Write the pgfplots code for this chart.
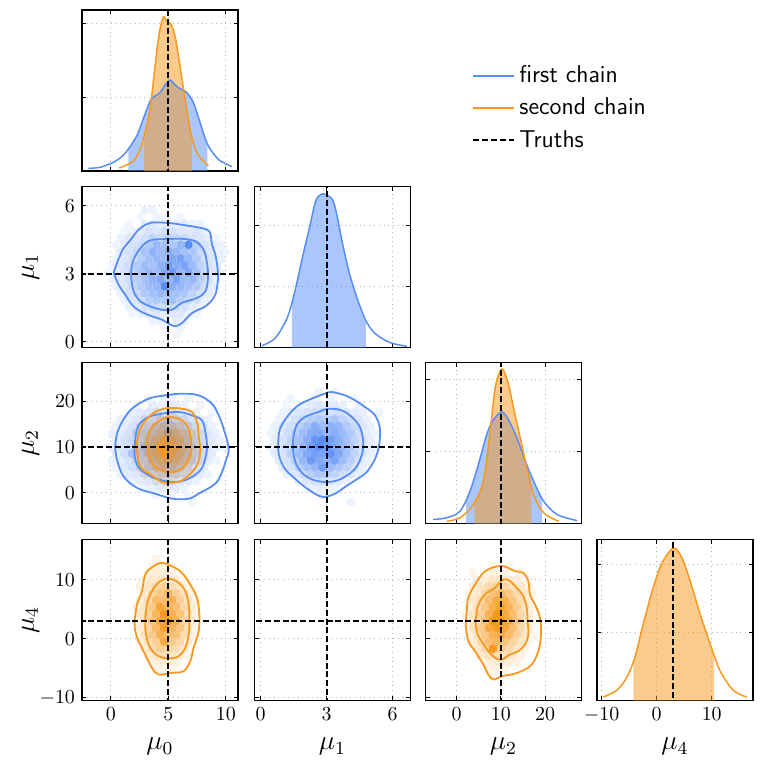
\documentclass[border=0pt]{standalone}
\usepackage{pgfplots}
\pgfplotsset{compat=1.18}
\usepackage{pgfplotstable}
\usepgfplotslibrary{fillbetween}
\definecolor{blueC}{RGB}{88,141,245}
\definecolor{orangeC}{RGB}{248,152,29}

\pgfdeclareplotmark{hexagon}{%
  \pgfpathmoveto{\pgfqpoint{0pt}{1.1547\pgfplotmarksize}}%
  \pgfpathlineto{\pgfqpoint{\pgfplotmarksize}{0.57735\pgfplotmarksize}}%
  \pgfpathlineto{\pgfqpoint{\pgfplotmarksize}{-0.57735\pgfplotmarksize}}%
  \pgfpathlineto{\pgfqpoint{0pt}{-1.1547\pgfplotmarksize}}%
  \pgfpathlineto{\pgfqpoint{-\pgfplotmarksize}{-0.57735\pgfplotmarksize}}%
  \pgfpathlineto{\pgfqpoint{-\pgfplotmarksize}{0.57735\pgfplotmarksize}}%
  \pgfpathclose
  \pgfusepathqfill}

\pgfplotsset{
  colormap={bmap}{color=(white) color=(blueC)},
  colormap={omap}{color=(white) color=(orangeC)},
  cp/.style={
    scale only axis, width=78bp, height=80.5bp, anchor=north west,
    axis line style={line width=0.6bp},
    tick align=inside, tick pos=both,
    xticklabel pos=lower, yticklabel pos=left,
    major tick length=2.2bp,
    tick style={black, line width=0.5bp},
    grid=major,
    grid style={dotted, black!30, line width=0.5bp},
    tick label style={font=\fontsize{10}{12}\selectfont},
    clip=true,
    point meta min=0, point meta max=0.48,
    every axis x label/.style={at={(axis description cs:0.5,-0.307)}, anchor=base, font=\fontsize{12}{14}\selectfont, scale=1.15},
    every axis y label/.style={at={(axis description cs:-0.33,0.5)}, rotate=90, anchor=center, font=\fontsize{12}{14}\selectfont, scale=1.15},
  },
  ov/.style={cp, hide axis},
  noxl/.style={xticklabels={,,}},
  noyl/.style={yticklabels={,,}},
  truth/.style={black, line width=0.85bp, dash pattern=on 3bp off 1.4bp},
  cont/.style={line width=0.9bp, smooth, tension=0.6, forget plot},
  marg/.style={line width=0.75bp, smooth, tension=0.5, forget plot},
  hexm/.style={scatter, only marks, mark=hexagon, mark size=2.05bp, forget plot,
    point meta=\thisrow{v},
    scatter/use mapped color={draw=none, fill=mapped color}},
  hexo/.style={scatter, only marks, mark=hexagon, mark size=2bp, forget plot,
    point meta=\thisrow{v},
    visualization depends on={min(1,2.0*\thisrow{v}) \as \hv},
    scatter/@pre marker code/.code={\pgfsetfillopacity{\hv}\pgfsetfillcolor{#1}},
    scatter/@post marker code/.code={}},
}

% hex bins: column index i, row index j, shade v
\pgfplotstableread{
i j v
-5.5 7 .06
-4.5 7 .05
-6 6 .04
-4 6 .05
-3 6 .04
-1 6 .04
-7.5 5 .04
-5.5 5 .08
-4.5 5 .10
-3.5 5 .07
-2.5 5 .09
-1.5 5 .06
-0.5 5 .08
0.5 5 .05
1.5 5 .06
-8 4 .04
-7 4 .06
-6 4 .08
-5 4 .12
-4 4 .10
-3 4 .14
-2 4 .12
-1 4 .10
0 4 .09
1 4 .11
2 4 .06
-8.5 3 .06
-7.5 3 .09
-6.5 3 .10
-5.5 3 .14
-4.5 3 .18
-3.5 3 .15
-2.5 3 .20
-1.5 3 .17
-0.5 3 .16
0.5 3 .12
1.5 3 .10
2.5 3 .07
3.5 3 .04
-9 2 .05
-8 2 .08
-7 2 .12
-6 2 .14
-5 2 .22
-4 2 .30
-3 2 .26
-2 2 .24
-1 2 .30
0 2 .62
1 2 .20
2 2 .12
3 2 .08
4 2 .05
-8.5 1 .08
-7.5 1 .12
-6.5 1 .16
-5.5 1 .25
-4.5 1 .32
-3.5 1 .28
-2.5 1 .35
-1.5 1 .30
-0.5 1 .26
0.5 1 .24
1.5 1 .16
2.5 1 .10
3.5 1 .06
4.5 1 .05
-9 0 .06
-8 0 .10
-7 0 .14
-6 0 .20
-5 0 .26
-4 0 .30
-3 0 .28
-2 0 .36
-1 0 .38
0 0 .30
1 0 .22
2 0 .14
3 0 .10
4 0 .06
-9.5 -1 .05
-8.5 -1 .10
-7.5 -1 .14
-6.5 -1 .22
-5.5 -1 .28
-4.5 -1 .25
-3.5 -1 .32
-2.5 -1 .40
-1.5 -1 .34
-0.5 -1 .38
0.5 -1 .28
1.5 -1 .18
2.5 -1 .12
3.5 -1 .08
-10 -2 .04
-9 -2 .08
-8 -2 .12
-7 -2 .18
-6 -2 .24
-5 -2 .30
-4 -2 .28
-3 -2 .35
-2 -2 .42
-1 -2 .30
0 -2 .36
1 -2 .26
2 -2 .16
3 -2 .10
4 -2 .05
-9.5 -3 .06
-8.5 -3 .09
-7.5 -3 .14
-6.5 -3 .20
-5.5 -3 .26
-4.5 -3 .32
-3.5 -3 .36
-2.5 -3 .30
-1.5 -3 .38
-0.5 -3 .28
0.5 -3 .30
1.5 -3 .20
2.5 -3 .12
3.5 -3 .06
-9 -4 .06
-8 -4 .10
-7 -4 .16
-6 -4 .22
-5 -4 .28
-4 -4 .30
-3 -4 .52
-2 -4 .34
-1 -4 .30
0 -4 .26
1 -4 .22
2 -4 .14
3 -4 .08
-8.5 -5 .06
-7.5 -5 .12
-6.5 -5 .16
-5.5 -5 .22
-4.5 -5 .26
-3.5 -5 .30
-2.5 -5 .28
-1.5 -5 .26
-0.5 -5 .24
0.5 -5 .18
1.5 -5 .12
2.5 -5 .08
-8 -6 .06
-7 -6 .10
-6 -6 .14
-5 -6 .20
-4 -6 .24
-3 -6 .22
-2 -6 .26
-1 -6 .20
0 -6 .16
1 -6 .12
2 -6 .06
-7.5 -7 .06
-6.5 -7 .08
-5.5 -7 .12
-4.5 -7 .16
-3.5 -7 .14
-2.5 -7 .18
-1.5 -7 .14
-0.5 -7 .12
0.5 -7 .08
1.5 -7 .05
-7 -8 .04
-6 -8 .06
-5 -8 .08
-4 -8 .10
-3 -8 .08
-2 -8 .10
-1 -8 .09
0 -8 .06
1 -8 .04
-4.5 -9 .05
-3.5 -9 .06
-2.5 -9 .05
-1.5 -9 .07
-0.5 -9 .05
-3 -10 .04
-1 -10 .05
-1.5 -11 .04
}\hexA

\pgfplotstableread{
i j v
-2.5 7 .05
-0.5 7 .06
0.5 7 .05
2.5 7 .05
-4 6 .04
-2 6 .07
-1 6 .06
0 6 .08
1 6 .07
2 6 .05
4 6 .04
-4.5 5 .06
-3.5 5 .08
-2.5 5 .10
-1.5 5 .12
-0.5 5 .10
0.5 5 .13
1.5 5 .10
2.5 5 .08
3.5 5 .06
5.5 5 .04
-6 4 .05
-5 4 .07
-4 4 .10
-3 4 .14
-2 4 .16
-1 4 .20
0 4 .24
1 4 .18
2 4 .15
3 4 .12
4 4 .08
5 4 .06
-6.5 3 .05
-5.5 3 .08
-4.5 3 .12
-3.5 3 .18
-2.5 3 .20
-1.5 3 .26
-0.5 3 .30
0.5 3 .28
1.5 3 .22
2.5 3 .20
3.5 3 .14
4.5 3 .10
5.5 3 .06
-7 2 .06
-6 2 .08
-5 2 .12
-4 2 .20
-3 2 .24
-2 2 .28
-1 2 .30
0 2 .46
1 2 .32
2 2 .26
3 2 .20
4 2 .14
5 2 .10
6 2 .06
-6.5 1 .07
-5.5 1 .12
-4.5 1 .16
-3.5 1 .22
-2.5 1 .28
-1.5 1 .34
-0.5 1 .36
0.5 1 .40
1.5 1 .34
2.5 1 .28
3.5 1 .20
4.5 1 .14
5.5 1 .08
6.5 1 .05
-7 0 .06
-6 0 .10
-5 0 .14
-4 0 .20
-3 0 .30
-2 0 .34
-1 0 .40
0 0 .42
1 0 .38
2 0 .30
3 0 .24
4 0 .16
5 0 .10
6 0 .07
7 0 .04
-6.5 -1 .08
-5.5 -1 .14
-4.5 -1 .26
-3.5 -1 .24
-2.5 -1 .30
-1.5 -1 .36
-0.5 -1 .40
0.5 -1 .36
1.5 -1 .34
2.5 -1 .28
3.5 -1 .20
4.5 -1 .14
5.5 -1 .08
-7 -2 .05
-6 -2 .08
-5 -2 .12
-4 -2 .18
-3 -2 .22
-2 -2 .30
-1 -2 .32
0 -2 .36
1 -2 .32
2 -2 .26
3 -2 .22
4 -2 .14
5 -2 .08
6 -2 .05
-6.5 -3 .05
-5.5 -3 .10
-4.5 -3 .14
-3.5 -3 .18
-2.5 -3 .24
-1.5 -3 .26
-0.5 -3 .30
0.5 -3 .28
1.5 -3 .24
2.5 -3 .18
3.5 -3 .12
4.5 -3 .08
-6 -4 .05
-5 -4 .08
-4 -4 .10
-3 -4 .14
-2 -4 .18
-1 -4 .20
0 -4 .22
1 -4 .20
2 -4 .16
3 -4 .12
4 -4 .08
5 -4 .05
-4.5 -5 .06
-3.5 -5 .08
-2.5 -5 .10
-1.5 -5 .12
-0.5 -5 .14
0.5 -5 .12
1.5 -5 .10
2.5 -5 .08
3.5 -5 .05
-3 -6 .05
-2 -6 .06
-1 -6 .08
0 -6 .07
1 -6 .08
2 -6 .05
-1.5 -7 .04
0.5 -7 .05
2.5 -7 .04
3 -8 .04
}\hexB

\pgfplotstableread{
i j v
-1.5 5 .04
0.5 5 .06
-3 4 .04
-2 4 .06
-1 4 .10
0 4 .12
1 4 .08
2 4 .05
-3.5 3 .05
-2.5 3 .10
-1.5 3 .16
-0.5 3 .20
0.5 3 .18
1.5 3 .14
2.5 3 .08
3.5 3 .04
-4 2 .05
-3 2 .10
-2 2 .18
-1 2 .26
0 2 .30
1 2 .28
2 2 .20
3 2 .12
4 2 .05
-3.5 1 .10
-2.5 1 .20
-1.5 1 .32
-0.5 1 .42
0.5 1 .36
1.5 1 .30
2.5 1 .18
3.5 1 .08
-4 0 .06
-3 0 .14
-2 0 .26
-1 0 .55
0 0 .44
1 0 .40
2 0 .26
3 0 .14
4 0 .06
-3.5 -1 .12
-2.5 -1 .22
-1.5 -1 .36
-0.5 -1 .48
0.5 -1 .40
1.5 -1 .30
2.5 -1 .20
3.5 -1 .10
-4 -2 .05
-3 -2 .12
-2 -2 .22
-1 -2 .32
0 -2 .36
1 -2 .30
2 -2 .22
3 -2 .12
4 -2 .05
-3.5 -3 .08
-2.5 -3 .14
-1.5 -3 .22
-0.5 -3 .26
0.5 -3 .22
1.5 -3 .16
2.5 -3 .10
-3 -4 .05
-2 -4 .10
-1 -4 .14
0 -4 .14
1 -4 .12
2 -4 .08
3 -4 .04
-1.5 -5 .06
-0.5 -5 .07
0.5 -5 .06
0 -6 .04
}\hexC

\pgfplotstableread{
i j v
-1 8 .05
1 8 .04
-4.5 7 .05
-1.5 7 .06
0.5 7 .05
3.5 7 .04
-5 6 .04
-3 6 .06
-2 6 .08
-1 6 .10
0 6 .08
1 6 .09
2 6 .06
4 6 .05
-5.5 5 .05
-4.5 5 .07
-3.5 5 .10
-2.5 5 .12
-1.5 5 .14
-0.5 5 .16
0.5 5 .12
1.5 5 .14
2.5 5 .10
3.5 5 .08
4.5 5 .06
6.5 5 .05
-6 4 .05
-5 4 .08
-4 4 .12
-3 4 .16
-2 4 .20
-1 4 .22
0 4 .20
1 4 .24
2 4 .18
3 4 .14
4 4 .10
5 4 .06
-6.5 3 .06
-5.5 3 .10
-4.5 3 .14
-3.5 3 .20
-2.5 3 .26
-1.5 3 .34
-0.5 3 .28
0.5 3 .32
1.5 3 .30
2.5 3 .22
3.5 3 .16
4.5 3 .10
5.5 3 .06
-7 2 .05
-6 2 .08
-5 2 .14
-4 2 .20
-3 2 .28
-2 2 .34
-1 2 .36
0 2 .30
1 2 .34
2 2 .28
3 2 .22
4 2 .14
5 2 .08
6 2 .05
-6.5 1 .07
-5.5 1 .12
-4.5 1 .18
-3.5 1 .26
-2.5 1 .34
-1.5 1 .44
-0.5 1 .70
0.5 1 .40
1.5 1 .34
2.5 1 .26
3.5 1 .18
4.5 1 .12
5.5 1 .07
-7 0 .05
-6 0 .10
-5 0 .16
-4 0 .24
-3 0 .30
-2 0 .40
-1 0 .50
0 0 .42
1 0 .36
2 0 .30
3 0 .22
4 0 .14
5 0 .08
6 0 .05
-6.5 -1 .08
-5.5 -1 .12
-4.5 -1 .20
-3.5 -1 .28
-2.5 -1 .36
-1.5 -1 .40
-0.5 -1 .38
0.5 -1 .44
1.5 -1 .36
2.5 -1 .26
3.5 -1 .18
4.5 -1 .12
5.5 -1 .06
-6 -2 .08
-5 -2 .12
-4 -2 .20
-3 -2 .30
-2 -2 .42
-1 -2 .36
0 -2 .32
1 -2 .38
2 -2 .28
3 -2 .20
4 -2 .12
5 -2 .06
-5.5 -3 .08
-4.5 -3 .12
-3.5 -3 .20
-2.5 -3 .26
-1.5 -3 .30
-0.5 -3 .40
0.5 -3 .28
1.5 -3 .24
2.5 -3 .18
3.5 -3 .12
4.5 -3 .06
-5 -4 .06
-4 -4 .10
-3 -4 .14
-2 -4 .20
-1 -4 .24
0 -4 .22
1 -4 .18
2 -4 .14
3 -4 .10
4 -4 .06
-3.5 -5 .06
-2.5 -5 .10
-1.5 -5 .12
-0.5 -5 .14
0.5 -5 .10
1.5 -5 .08
2.5 -5 .05
-2 -6 .06
-1 -6 .07
0 -6 .05
1 -6 .04
-0.5 -7 .05
3 -8 .05
}\hexD

\pgfplotstableread{
i j v
-1.5 9 .05
-2 8 .05
-1 8 .06
0 8 .04
-2.5 7 .06
-1.5 7 .08
-0.5 7 .08
0.5 7 .06
-3 6 .06
-2 6 .10
-1 6 .12
0 6 .10
1 6 .08
2 6 .05
-3.5 5 .06
-2.5 5 .12
-1.5 5 .18
-0.5 5 .22
0.5 5 .16
1.5 5 .12
2.5 5 .06
-3 4 .10
-2 4 .20
-1 4 .26
0 4 .34
1 4 .22
2 4 .14
3 4 .06
-3.5 3 .08
-2.5 3 .16
-1.5 3 .32
-0.5 3 .30
0.5 3 .36
1.5 3 .22
2.5 3 .12
3.5 3 .05
-4 2 .05
-3 2 .12
-2 2 .24
-1 2 .42
0 2 .34
1 2 .30
2 2 .18
3 2 .08
-3.5 1 .10
-2.5 1 .20
-1.5 1 .34
-0.5 1 .58
0.5 1 .36
1.5 1 .28
2.5 1 .14
3.5 1 .06
-4 0 .06
-3 0 .14
-2 0 .28
-1 0 .40
0 0 .46
1 0 .36
2 0 .20
3 0 .10
-3.5 -1 .08
-2.5 -1 .18
-1.5 -1 .32
-0.5 -1 .44
0.5 -1 .34
1.5 -1 .26
2.5 -1 .14
3.5 -1 .05
-3 -2 .12
-2 -2 .24
-1 -2 .36
0 -2 .30
1 -2 .28
2 -2 .16
3 -2 .06
-3.5 -3 .06
-2.5 -3 .14
-1.5 -3 .22
-0.5 -3 .40
0.5 -3 .24
1.5 -3 .18
2.5 -3 .08
-3 -4 .08
-2 -4 .16
-1 -4 .22
0 -4 .20
1 -4 .16
2 -4 .10
-2.5 -5 .08
-1.5 -5 .12
-0.5 -5 .14
0.5 -5 .12
1.5 -5 .08
2.5 -5 .04
-2 -6 .06
-1 -6 .08
0 -6 .08
1 -6 .06
-1.5 -7 .05
-0.5 -7 .05
0.5 -7 .04
}\hexE

\pgfplotstableread{
i j v
-1 8 .05
1 8 .04
-3.5 7 .05
-1.5 7 .06
-0.5 7 .07
0.5 7 .06
2.5 7 .05
-3 6 .06
-2 6 .08
-1 6 .12
0 6 .12
1 6 .10
2 6 .08
3 6 .05
-3.5 5 .08
-2.5 5 .12
-1.5 5 .18
-0.5 5 .22
0.5 5 .20
1.5 5 .14
2.5 5 .10
3.5 5 .05
-4 4 .05
-3 4 .10
-2 4 .18
-1 4 .28
0 4 .34
1 4 .26
2 4 .18
3 4 .10
4 4 .05
-3.5 3 .10
-2.5 3 .18
-1.5 3 .30
-0.5 3 .40
0.5 3 .36
1.5 3 .26
2.5 3 .16
3.5 3 .08
-4 2 .06
-3 2 .14
-2 2 .26
-1 2 .38
0 2 .44
1 2 .36
2 2 .24
3 2 .14
4 2 .06
-4.5 1 .05
-3.5 1 .12
-2.5 1 .22
-1.5 1 .36
-0.5 1 .48
0.5 1 .40
1.5 1 .30
2.5 1 .18
3.5 1 .08
-4 0 .08
-3 0 .16
-2 0 .30
-1 0 .62
0 0 .50
1 0 .40
2 0 .26
3 0 .14
4 0 .06
-3.5 -1 .12
-2.5 -1 .24
-1.5 -1 .40
-0.5 -1 .46
0.5 -1 .42
1.5 -1 .30
2.5 -1 .18
3.5 -1 .08
-4 -2 .05
-3 -2 .14
-2 -2 .26
-1 -2 .36
0 -2 .40
1 -2 .32
2 -2 .22
3 -2 .12
4 -2 .05
-3.5 -3 .08
-2.5 -3 .18
-1.5 -3 .30
-0.5 -3 .34
0.5 -3 .28
1.5 -3 .20
2.5 -3 .12
3.5 -3 .05
-3 -4 .10
-2 -4 .18
-1 -4 .48
0 -4 .24
1 -4 .18
2 -4 .12
3 -4 .06
-2.5 -5 .10
-1.5 -5 .14
-0.5 -5 .16
0.5 -5 .14
1.5 -5 .10
2.5 -5 .06
-2 -6 .06
-1 -6 .08
0 -6 .10
1 -6 .08
2 -6 .05
-1.5 -7 .05
-0.5 -7 .06
0.5 -7 .05
-1 -8 .04
}\hexF

\begin{document}
\begin{tikzpicture}

% ---------- row 1 : mu0 marginal ----------
\begin{axis}[cp, at={(41bp,-5bp)}, xmin=-2.5, xmax=11.06, ymin=0, ymax=2.176,
  xtick={0,5,10}, ytick={1,2}, noxl, noyl,
  legend style={at={(2.5,0.682)}, anchor=north west, draw=none, fill=none,
    font=\sffamily\fontsize{12.2}{14}\selectfont, row sep=2.2bp, inner sep=0pt},
  legend cell align=left,
  legend image code/.code={\draw[#1] (0bp,0bp) -- (20.5bp,0bp);}]
\addlegendimage{blueC, line width=1bp}
\addlegendentry{first chain}
\addlegendimage{orangeC, line width=1bp}
\addlegendentry{second chain}
\addlegendimage{truth}
\addlegendentry{Truths}
\addplot[blueC, marg, name path=b0] coordinates {(-1.95,0.036) (-0.93,0.05) (0.22,0.117) (1.0,0.2) (1.53,0.296) (2.26,0.475) (2.7,0.65) (3.13,0.834) (3.56,0.978) (4.28,1.06) (4.75,1.17) (5.15,1.229) (5.5,1.18) (5.87,1.127) (6.6,1.06) (7.18,0.925) (7.76,0.655) (8.1,0.49) (8.48,0.34) (9.0,0.22) (9.5,0.139) (10.52,0.058)};
\addplot[orangeC, marg, name path=o0] coordinates {(0.74,0.04) (1.82,0.117) (2.35,0.22) (2.83,0.43) (3.41,0.834) (3.85,1.417) (4.22,1.867) (4.57,2.082) (4.87,2.023) (5.21,1.992) (5.59,1.821) (6.02,1.417) (6.46,0.969) (6.89,0.565) (7.47,0.25) (8.48,0.071)};
\addplot[draw=none, name path=z0, forget plot] coordinates {(-3,0) (12,0)};
\addplot[fill=blueC, fill opacity=0.5, draw=none, forget plot] fill between[of=b0 and z0, soft clip={domain=1.53:8.4}];
\addplot[fill=orangeC, fill opacity=0.5, draw=none, forget plot] fill between[of=o0 and z0, soft clip={domain=2.89:7.04}];
\addplot[truth, forget plot] coordinates {(5,-1) (5,3)};
\end{axis}

% ---------- row 2 ----------
\begin{axis}[cp, at={(41bp,-93.25bp)}, xmin=-2.5, xmax=11.06, ymin=-0.26, ymax=6.85,
  xtick={0,5,10}, ytick={0,3,6}, noxl, ylabel={$\mu_1$}, colormap name=bmap]
\addplot[hexm] table[x expr=6.77+0.696*\thisrow{i}, y expr=3.66+0.306*\thisrow{j}] {\hexA};
\end{axis}
\begin{axis}[ov, at={(41bp,-93.25bp)}, xmin=-2.5, xmax=11.06, ymin=-0.26, ymax=6.85]
\addplot[blueC, cont] coordinates {(0.25,3.03) (0.54,3.47) (0.97,3.99) (1.12,4.13) (1.84,4.57) (2.28,4.87) (3.0,5.16) (3.58,5.26) (5.03,5.24) (6.19,5.16) (7.64,5.04) (8.36,4.94) (8.65,4.79) (8.8,4.28) (9.09,3.84) (9.32,3.03) (9.23,2.37) (8.94,1.93) (8.22,1.56) (7.06,1.26) (6.19,0.82) (5.61,0.68) (5.09,0.78) (4.45,0.97) (3.58,1.12) (2.57,1.34) (1.84,1.63) (1.26,2.07) (0.68,2.51) (0.25,3.03)};
\addplot[blueC, cont] coordinates {(1.78,2.81) (1.84,3.40) (2.28,3.91) (3.0,4.35) (3.72,4.5) (5.03,4.53) (6.19,4.54) (7.35,4.43) (8.07,4.06) (8.36,3.47) (8.45,2.81) (8.22,2.22) (7.49,1.93) (6.19,1.71) (5.32,1.41) (4.45,1.41) (3.43,1.56) (2.57,1.78) (1.99,2.22) (1.78,2.81)};
\addplot[truth, forget plot] coordinates {(5,-5) (5,10)};
\addplot[truth, forget plot] coordinates {(-5,3) (15,3)};
\end{axis}

\begin{axis}[cp, at={(127.25bp,-93.25bp)}, xmin=-0.28, xmax=6.81, ymin=0, ymax=2.64,
  xtick={0,3,6}, ytick={1,2}, noxl, noyl]
\addplot[blueC, marg, name path=b1] coordinates {(0.06,0.03) (0.65,0.15) (1.2,0.48) (1.56,0.93) (1.92,1.51) (2.24,2.0) (2.51,2.41) (2.79,2.52) (3.06,2.49) (3.29,2.41) (3.47,2.16) (3.74,1.67) (4.06,1.18) (4.42,0.77) (4.78,0.44) (5.2,0.23) (5.88,0.08) (6.65,0.02)};
\addplot[draw=none, name path=z1, forget plot] coordinates {(-1,0) (8,0)};
\addplot[fill=blueC, fill opacity=0.5, draw=none, forget plot] fill between[of=b1 and z1, soft clip={domain=1.42:4.78}];
\addplot[truth, forget plot] coordinates {(3,-1) (3,3)};
\end{axis}

% ---------- row 3 ----------
\begin{axis}[cp, at={(41bp,-181.25bp)}, xmin=-2.5, xmax=11.06, ymin=-6.72, ymax=28.4,
  xtick={0,5,10}, ytick={0,10,20}, noxl, ylabel={$\mu_2$}, colormap name=bmap]
\addplot[hexm] table[x expr=5+0.696*\thisrow{i}, y expr=10+1.511*\thisrow{j}] {\hexB};
\addplot[hexo=orangeC] table[x expr=5+0.696*\thisrow{i}, y expr=10+1.511*\thisrow{j}] {\hexC};
\end{axis}
\begin{axis}[ov, at={(41bp,-181.25bp)}, xmin=-2.5, xmax=11.06, ymin=-6.72, ymax=28.4]
\addplot[blueC, cont] coordinates {(0.54,12.87) (0.97,15.42) (1.84,18.32) (3.29,20.5) (4.74,21.23) (6.19,21.6) (7.64,21.23) (8.80,19.41) (9.38,16.87) (9.81,13.96) (10.25,9.6) (9.96,6.69) (9.67,4.51) (9.09,1.97) (7.64,-0.21) (6.77,-1.31) (5.32,-1.31) (3.87,-0.21) (2.42,0.88) (1.26,3.06) (0.68,5.97) (0.39,9.6) (0.54,12.87)};
\addplot[blueC, cont] coordinates {(2.13,11.78) (2.42,14.69) (3.29,16.51) (4.45,17.23) (5.90,17.6) (7.06,16.87) (7.93,15.78) (8.22,13.24) (8.36,10.33) (8.22,7.42) (7.78,4.87) (6.77,3.06) (5.61,2.33) (4.45,2.69) (3.29,3.78) (2.42,5.60) (2.07,8.15) (2.13,11.78)};
\addplot[orangeC, cont] coordinates {(2.28,11.05) (2.57,13.96) (3.29,16.51) (4.16,17.96) (5.03,18.47) (6.19,18.32) (7.06,17.6) (7.49,15.42) (7.64,12.51) (7.78,8.87) (7.49,5.97) (6.77,3.78) (6.19,2.69) (5.32,2.18) (4.45,2.33) (3.58,3.78) (2.71,5.24) (2.36,7.42) (2.28,11.05)};
\addplot[orangeC, cont] coordinates {(3.14,10.33) (3.29,12.87) (3.72,14.69) (4.45,16.0) (5.17,16.51) (6.04,16.0) (6.62,14.69) (6.91,12.51) (7.0,9.96) (6.83,7.42) (6.33,5.60) (5.46,4.51) (4.59,4.66) (3.87,5.60) (3.43,7.42) (3.14,10.33)};
\addplot[truth, forget plot] coordinates {(5,-10) (5,40)};
\addplot[truth, forget plot] coordinates {(-5,10) (15,10)};
\end{axis}

\begin{axis}[cp, at={(127.25bp,-181.25bp)}, xmin=-0.28, xmax=6.81, ymin=-6.72, ymax=28.4,
  xtick={0,3,6}, ytick={0,10,20}, noxl, noyl, colormap name=bmap]
\addplot[hexm] table[x expr=3+0.364*\thisrow{i}, y expr=10+1.511*\thisrow{j}] {\hexD};
\end{axis}
\begin{axis}[ov, at={(127.25bp,-181.25bp)}, xmin=-0.28, xmax=6.81, ymin=-6.72, ymax=28.4]
\addplot[blueC, cont] coordinates {(0.80,11.05) (0.88,13.96) (1.26,16.87) (1.71,19.05) (2.32,20.51) (2.92,21.6) (3.23,21.96) (3.83,21.24) (4.29,20.15) (4.74,18.69) (5.20,16.87) (5.42,13.96) (5.38,10.33) (5.20,7.42) (4.82,4.51) (4.29,2.69) (3.83,1.24) (3.38,-0.21) (2.85,-0.94) (2.47,-0.21) (2.01,1.24) (1.56,3.06) (1.10,5.24) (0.83,8.15) (0.80,11.05)};
\addplot[blueC, cont] coordinates {(1.48,11.78) (1.63,14.69) (2.01,16.51) (2.62,17.6) (3.07,18.32) (3.68,17.96) (4.14,16.51) (4.51,14.33) (4.66,11.06) (4.59,8.15) (4.29,5.24) (3.68,3.06) (3.07,2.33) (2.47,2.69) (2.01,3.78) (1.64,5.97) (1.48,8.88) (1.48,11.78)};
\addplot[truth, forget plot] coordinates {(3,-10) (3,40)};
\addplot[truth, forget plot] coordinates {(-1,10) (8,10)};
\end{axis}

\begin{axis}[cp, at={(212.75bp,-181.25bp)}, xmin=-7.07, xmax=28.27, ymin=0, ymax=2.236,
  xtick={0,10,20}, ytick={1,2}, noxl, noyl]
\addplot[blueC, marg, name path=b2] coordinates {(-5.32,0.056) (-2.27,0.08) (0.75,0.17) (3.02,0.45) (4.91,0.82) (6.82,1.24) (8.32,1.44) (10.23,1.55) (11.73,1.44) (13.64,1.19) (15.52,0.87) (17.41,0.59) (19.68,0.31) (22.73,0.125) (27.27,0.04)};
\addplot[orangeC, marg, name path=o2] coordinates {(-2.27,0.03) (0.75,0.08) (3.77,0.26) (6.05,0.59) (7.57,1.28) (8.7,1.88) (9.84,2.12) (10.59,2.13) (11.73,1.93) (12.86,1.61) (14.39,1.19) (15.91,0.77) (17.41,0.40) (19.68,0.15) (23.09,0.03)};
\addplot[draw=none, name path=z2, forget plot] coordinates {(-10,0) (30,0)};
\addplot[fill=blueC, fill opacity=0.5, draw=none, forget plot] fill between[of=b2 and z2, soft clip={domain=2.05:19.3}];
\addplot[fill=orangeC, fill opacity=0.5, draw=none, forget plot] fill between[of=o2 and z2, soft clip={domain=4.0:16.9}];
\addplot[truth, forget plot] coordinates {(10,-1) (10,3)};
\end{axis}

% ---------- row 4 ----------
\begin{axis}[cp, at={(41bp,-269.75bp)}, xmin=-2.5, xmax=11.06, ymin=-10.48, ymax=16.88,
  xtick={0,5,10}, ytick={-10,0,10}, xlabel={$\mu_0$}, ylabel={$\mu_4$}, colormap name=omap]
\addplot[hexm] table[x expr=5+0.696*\thisrow{i}, y expr=3+1.178*\thisrow{j}] {\hexE};
\end{axis}
\begin{axis}[ov, at={(41bp,-269.75bp)}, xmin=-2.5, xmax=11.06, ymin=-10.48, ymax=16.88]
\addplot[orangeC, cont] coordinates {(2.07,3.0) (2.28,5.83) (2.71,8.10) (3.0,10.93) (3.72,12.35) (4.45,12.91) (5.32,12.35) (6.19,11.21) (6.91,9.23) (7.49,6.97) (7.70,4.13) (7.64,1.30) (7.20,-1.53) (6.91,-3.80) (6.33,-5.49) (5.32,-5.78) (4.16,-6.06) (3.58,-4.93) (3.0,-2.66) (2.42,-0.40) (2.13,1.30) (2.07,3.0)};
\addplot[orangeC, cont] coordinates {(3.0,3.0) (3.14,5.83) (3.58,8.10) (4.30,9.80) (5.03,10.25) (5.90,9.52) (6.48,8.10) (6.77,5.83) (6.83,3.0) (6.77,0.74) (6.48,-1.53) (5.90,-2.95) (5.03,-3.34) (4.16,-2.95) (3.43,-1.53) (3.06,0.74) (3.0,3.0)};
\addplot[truth, forget plot] coordinates {(5,-20) (5,30)};
\addplot[truth, forget plot] coordinates {(-5,3) (15,3)};
\end{axis}

\begin{axis}[cp, at={(127.25bp,-269.75bp)}, xmin=-0.28, xmax=6.81, ymin=-10.48, ymax=16.88,
  xtick={0,3,6}, ytick={-10,0,10}, noyl, xlabel={$\mu_1$}]
\addplot[truth, forget plot] coordinates {(3,-20) (3,30)};
\addplot[truth, forget plot] coordinates {(-1,3) (8,3)};
\end{axis}

\begin{axis}[cp, at={(212.75bp,-269.75bp)}, xmin=-7.07, xmax=28.27, ymin=-10.48, ymax=16.88,
  xtick={0,10,20}, ytick={-10,0,10}, noyl, xlabel={$\mu_2$}, colormap name=omap]
\addplot[hexm] table[x expr=10+1.812*\thisrow{i}, y expr=3+1.178*\thisrow{j}] {\hexF};
\end{axis}
\begin{axis}[ov, at={(212.75bp,-269.75bp)}, xmin=-7.07, xmax=28.27, ymin=-10.48, ymax=16.88]
\addplot[orangeC, cont] coordinates {(2.03,2.44) (2.26,4.70) (2.63,6.97) (4.14,9.23) (6.03,11.21) (7.92,12.06) (10.56,12.35) (13.2,11.5) (15.09,11.21) (16.22,9.80) (16.6,7.53) (17.74,5.83) (18.87,3.57) (19.09,0.74) (18.49,-2.10) (16.98,-4.36) (14.71,-5.49) (12.45,-6.06) (10.19,-6.34) (8.30,-6.91) (7.16,-6.06) (6.03,-4.36) (4.14,-2.10) (2.63,-0.40) (2.03,2.44)};
\addplot[orangeC, cont] coordinates {(4.30,2.44) (4.52,4.70) (5.28,6.40) (6.79,7.82) (8.68,8.67) (10.56,10.08) (12.07,9.80) (13.58,8.67) (15.09,7.25) (15.85,5.27) (16.07,3.0) (16.22,0.74) (15.47,-0.96) (13.96,-2.10) (12.07,-2.66) (10.19,-3.51) (8.68,-3.23) (7.16,-2.10) (5.65,-0.40) (4.75,0.74) (4.30,2.44)};
\addplot[truth, forget plot] coordinates {(10,-20) (10,30)};
\addplot[truth, forget plot] coordinates {(-10,3) (30,3)};
\end{axis}

\begin{axis}[cp, at={(298.5bp,-269.75bp)}, xmin=-10.85, xmax=17.5, ymin=0, ymax=2.375,
  xtick={-10,0,10}, ytick={1,2}, noyl, xlabel={$\mu_4$}]
\addplot[orangeC, marg, name path=o3] coordinates {(-9.71,0.05) (-7.27,0.15) (-5.45,0.34) (-3.95,0.64) (-2.44,1.13) (-0.62,1.67) (0.91,2.02) (3.02,2.25) (4.55,2.11) (6.05,1.77) (7.87,1.28) (9.69,0.84) (11.51,0.44) (13.93,0.15) (16.36,0.05)};
\addplot[draw=none, name path=z3, forget plot] coordinates {(-12,0) (20,0)};
\addplot[fill=orangeC, fill opacity=0.5, draw=none, forget plot] fill between[of=o3 and z3, soft clip={domain=-4.25:10.42}];
\addplot[truth, forget plot] coordinates {(3,-1) (3,3)};
\end{axis}

\pgfresetboundingbox
\path[use as bounding box] (0bp,0bp) rectangle (383bp,-383bp);
\end{tikzpicture}
\end{document}
